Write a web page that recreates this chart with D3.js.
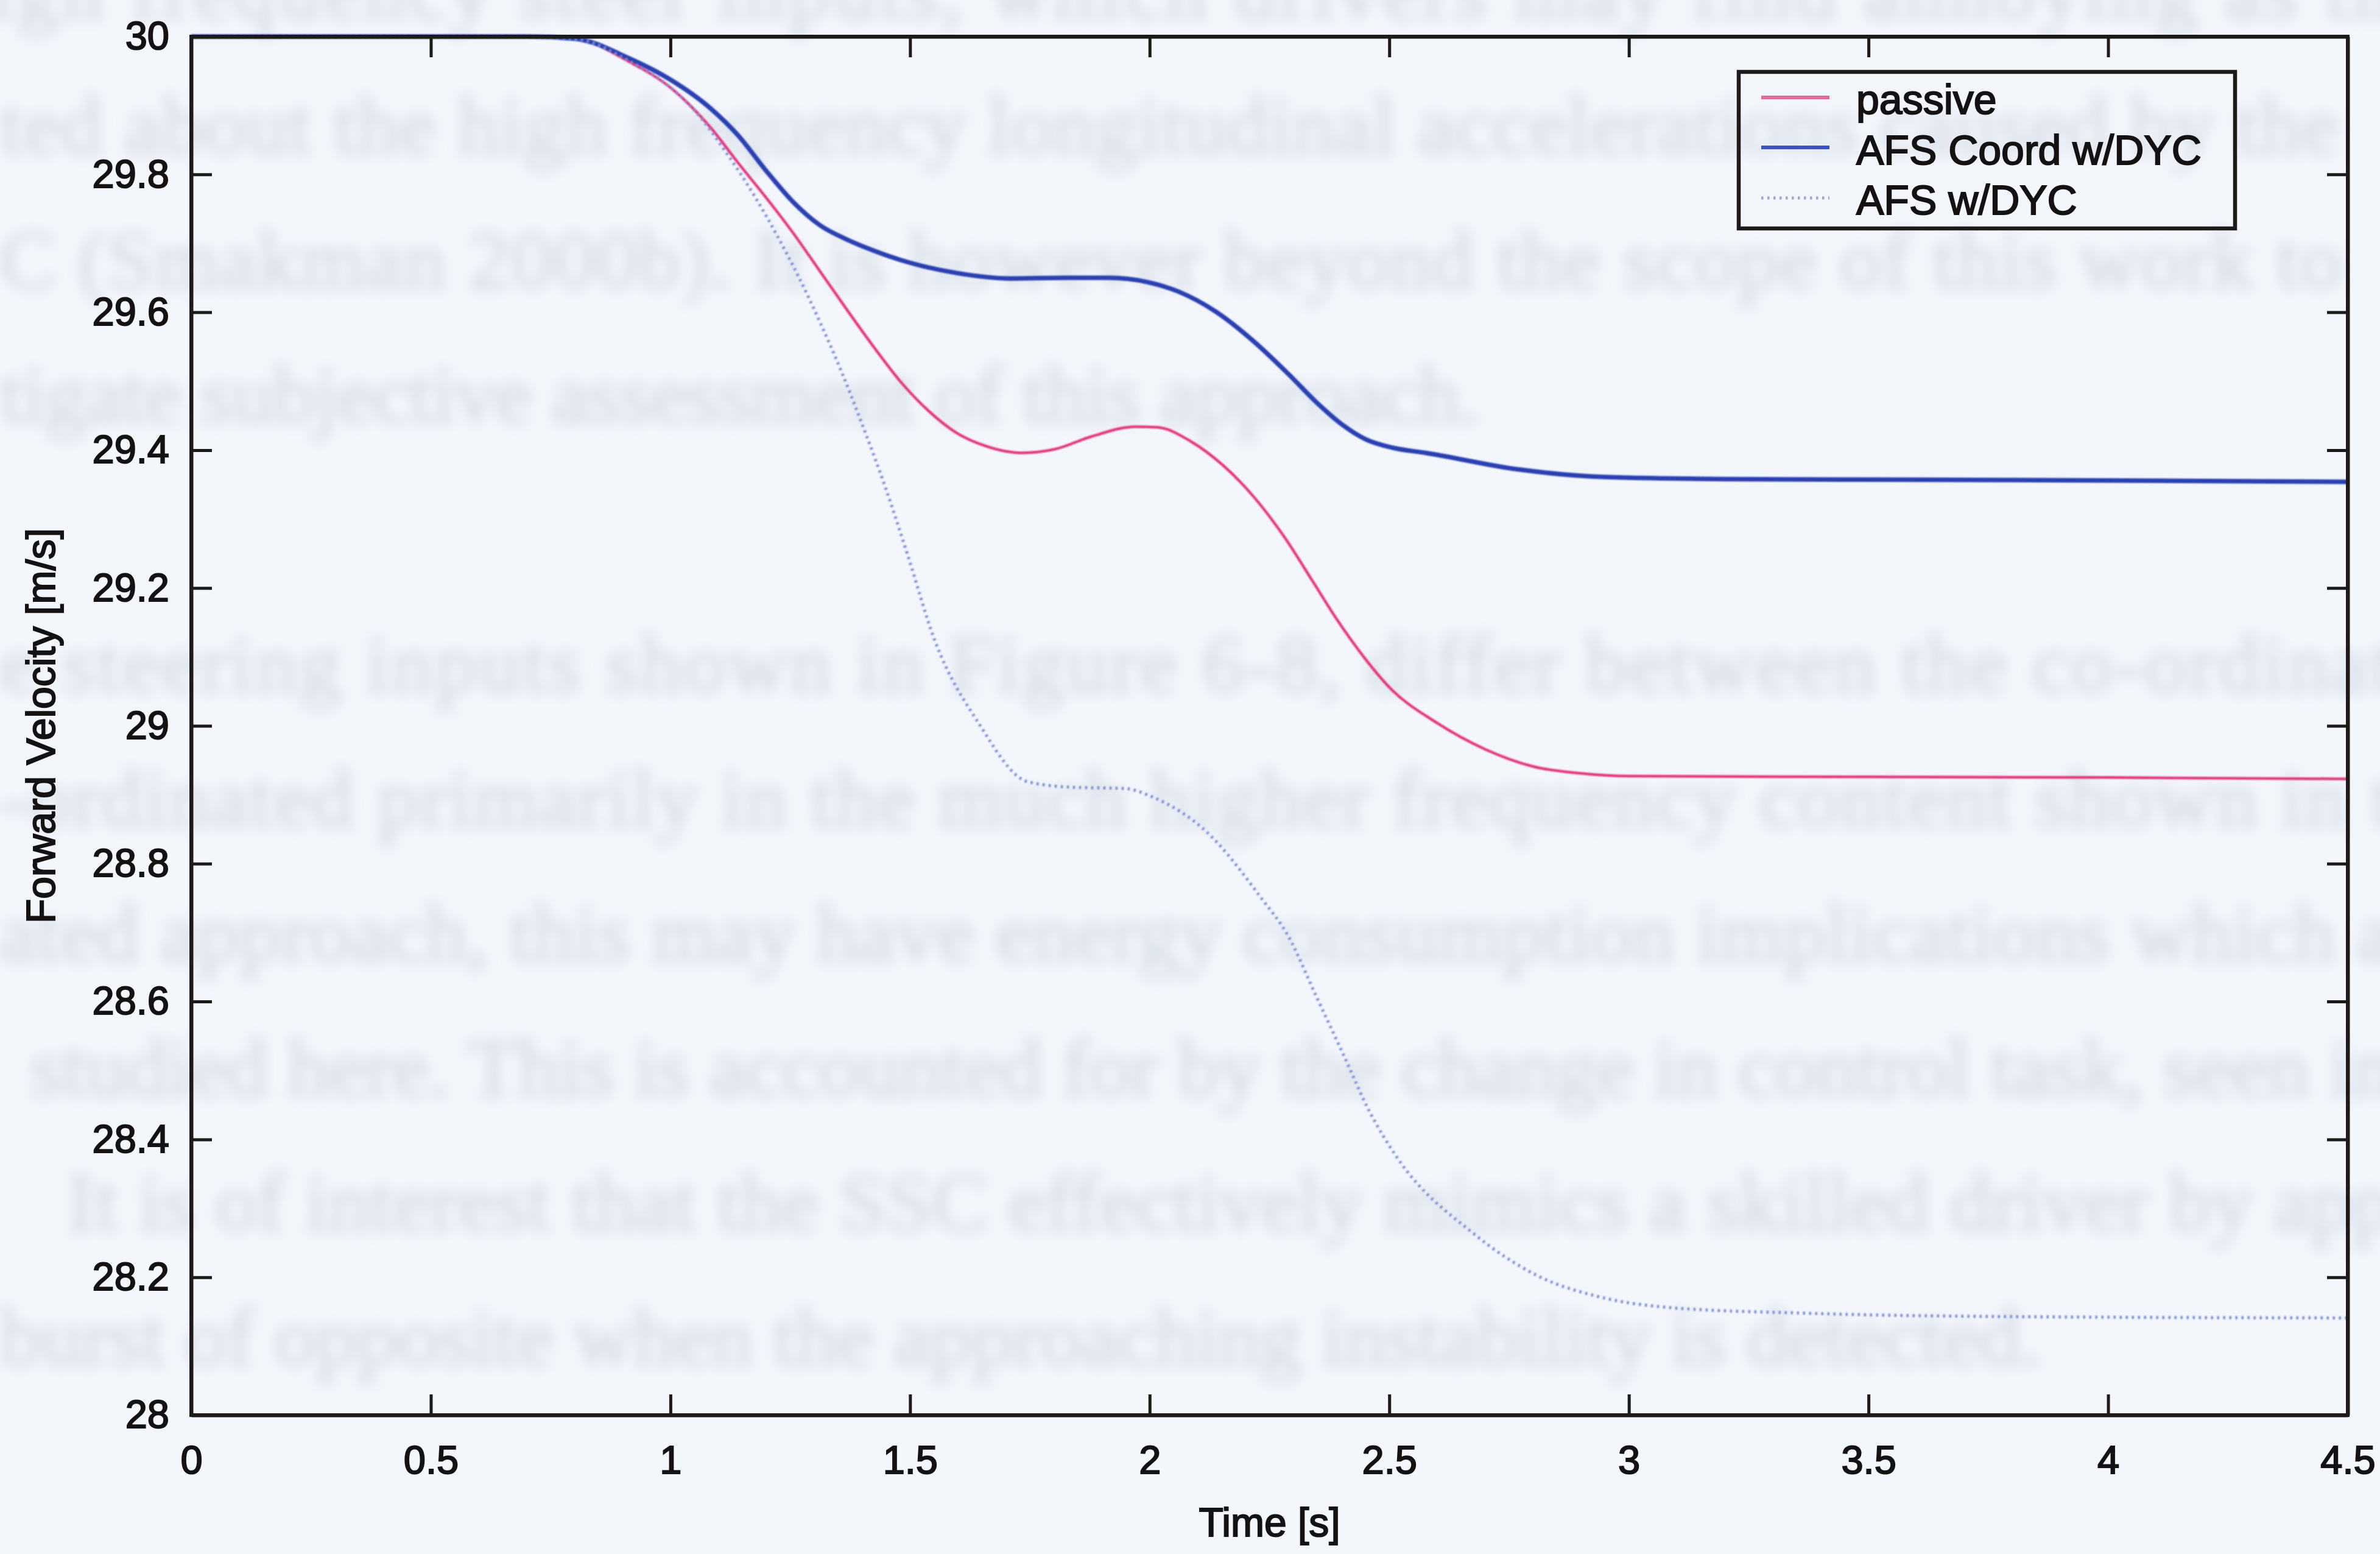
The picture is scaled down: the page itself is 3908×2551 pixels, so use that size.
<!DOCTYPE html>
<html>
<head>
<meta charset="utf-8">
<script src="https://cdn.jsdelivr.net/npm/d3@7"></script>
<style>
  html, body { margin: 0; padding: 0; background: #f3f6fb; }
  svg { display: block; }
</style>
</head>
<body>
<script>
// ---------------- DATA ----------------
const xTickValues = [0, 0.5, 1, 1.5, 2, 2.5, 3, 3.5, 4, 4.5];
const xTickLabels = ["0", "0.5", "1", "1.5", "2", "2.5", "3", "3.5", "4", "4.5"];
const yTickValues = [28, 28.2, 28.4, 28.6, 28.8, 29, 29.2, 29.4, 29.6, 29.8, 30];
const yTickLabels = ["28", "28.2", "28.4", "28.6", "28.8", "29", "29.2", "29.4", "29.6", "29.8", "30"];

const seriesNames = ["passive", "AFS Coord w/DYC", "AFS w/DYC"];

const passiveT = [0, 0.5, 0.7, 0.8, 0.915, 1.0, 1.085, 1.142, 1.2, 1.256, 1.3125, 1.37, 1.426, 1.483, 1.54, 1.597, 1.653, 1.733, 1.8, 1.88, 1.97, 2.017, 2.085, 2.153, 2.22, 2.28, 2.34, 2.39, 2.45, 2.5, 2.6, 2.7, 2.8, 2.9, 3.0, 3.5, 4.0, 4.5];
const passiveV = [30, 30, 30, 29.997, 29.963, 29.926, 29.867, 29.816, 29.766, 29.715, 29.659, 29.602, 29.548, 29.497, 29.456, 29.425, 29.407, 29.396, 29.401, 29.42, 29.434, 29.433, 29.413, 29.378, 29.33, 29.275, 29.21, 29.155, 29.097, 29.056, 29.004, 28.966, 28.941, 28.931, 28.927, 28.926, 28.925, 28.923];

const coordT = [0, 0.5, 0.7, 0.8, 0.915, 1.0, 1.085, 1.142, 1.2, 1.256, 1.3125, 1.37, 1.426, 1.494, 1.597, 1.71, 1.824, 1.915, 1.994, 2.06, 2.14, 2.22, 2.29, 2.347, 2.4, 2.45, 2.51, 2.576, 2.769, 2.948, 3.2, 3.6, 4.0, 4.5];
const coordV = [30, 30, 30, 29.997, 29.968, 29.9375, 29.895, 29.856, 29.805, 29.76, 29.726, 29.705, 29.689, 29.673, 29.657, 29.649, 29.65, 29.65, 29.644, 29.63, 29.6, 29.556, 29.51, 29.47, 29.438, 29.416, 29.403, 29.396, 29.372, 29.361, 29.358, 29.357, 29.356, 29.354];

const afsT = [0, 0.5, 0.7, 0.8, 0.915, 1.0, 1.06, 1.108, 1.176, 1.222, 1.267, 1.3125, 1.358, 1.403, 1.449, 1.494, 1.551, 1.643, 1.745, 1.835, 1.949, 2.005, 2.119, 2.233, 2.29, 2.346, 2.403, 2.459, 2.516, 2.673, 2.81, 2.948, 3.086, 3.361, 3.775, 4.5];
const afsV = [30, 30, 30, 29.997, 29.964, 29.926, 29.885, 29.84, 29.768, 29.712, 29.652, 29.585, 29.512, 29.432, 29.345, 29.25, 29.125, 29.004, 28.919, 28.911, 28.909, 28.897, 28.846, 28.75, 28.694, 28.61, 28.525, 28.44, 28.374, 28.265, 28.202, 28.17, 28.156, 28.148, 28.143, 28.141];

// faint bleed-through text of the scanned page
const bleedLines = [
  "high frequency steer inputs, which drivers may find annoying as th",
  "ted about the high frequency longitudinal accelerations caused by the",
  "C (Smakman 2000b). It is however beyond the scope of this work to",
  "tigate subjective assessment of this approach.",
  "e steering inputs shown in Figure 6-8, differ between the co-ordinat",
  "-ordinated primarily in the much higher frequency content shown in t",
  "ated approach, this may have energy consumption implications which a",
  "studied here. This is accounted for by the change in control task, seen in",
  "It is of interest that the SSC effectively mimics a skilled driver by app",
  "burst of opposite when the approaching instability is detected."
];
const bleedRow = [0, 1, 2, 3, 5, 6, 7, 8, 9, 10];
const bleedStart = [-90, 0, 0, 0, 0, 0, 0, 50, 110, 0];
const bleedEnd = [3930, 3840, 3845, 2430, 3930, 3930, 3930, 3930, 3930, 3352];

// ---------------- LAYOUT ----------------
const W = 3908, H = 2551;
const plot = { left: 314, right: 3855, top: 60, bottom: 2323 };
const FONT = "'Liberation Sans', Arial, Helvetica, sans-serif";
const INK = "#141212";

const svg = d3.select("body").append("svg")
  .attr("width", W).attr("height", H)
  .attr("viewBox", `0 0 ${W} ${H}`);

const defs = svg.append("defs");
defs.append("filter").attr("id", "blur")
  .attr("x", "-5%").attr("y", "-30%").attr("width", "110%").attr("height", "160%")
  .append("feGaussianBlur").attr("stdDeviation", 11);
defs.append("filter").attr("id", "soft")
  .append("feGaussianBlur").attr("stdDeviation", 0.8);

svg.append("rect").attr("width", W).attr("height", H).attr("fill", "#f3f6fb");

// bleed-through text
const bleed = svg.append("g").attr("filter", "url(#blur)")
  .attr("font-family", "'Liberation Serif', 'Times New Roman', serif")
  .attr("font-size", 136)
  .attr("fill", "#c6cfdc")
  .attr("stroke", "#c6cfdc").attr("stroke-width", 4)
  .attr("opacity", 0.6);
bleed.selectAll("text").data(bleedLines).join("text")
  .attr("x", (d, i) => bleedStart[i])
  .attr("y", (d, i) => 31 + 221 * bleedRow[i])
  .attr("textLength", (d, i) => bleedEnd[i] - bleedStart[i])
  .attr("lengthAdjust", "spacing")
  .text(d => d);

const x = d3.scaleLinear().domain([0, 4.5]).range([plot.left, plot.right]);
const y = d3.scaleLinear().domain([28, 30]).range([plot.bottom, plot.top]);

const line = d3.line().x(d => x(d[0])).y(d => y(d[1])).curve(d3.curveMonotoneX);
const zip = (a, b) => a.map((t, i) => [t, b[i]]);

const series = [
  { name: seriesNames[0], pts: zip(passiveT, passiveV), color: "#e2387f", width: 4.5, dash: null },
  { name: seriesNames[1], pts: zip(coordT, coordV), color: "#2b40b0", width: 7.5, dash: null },
  { name: seriesNames[2], pts: zip(afsT, afsV), color: "#7888d0", width: 5, dash: "3.5,6.5" }
];

const curves = svg.append("g").attr("filter", "url(#soft)");
series.forEach(s => {
  curves.append("path")
    .attr("d", line(s.pts))
    .attr("fill", "none")
    .attr("stroke", s.color)
    .attr("stroke-width", s.width)
    .attr("stroke-dasharray", s.dash)
    .attr("stroke-linejoin", "round");
});

// ---------------- AXES ----------------
const TICK = -34;
function styleAxis(g) {
  g.select(".domain").attr("stroke", "#1d1a1a").attr("stroke-width", 6);
  g.selectAll(".tick line").attr("stroke", "#1d1a1a").attr("stroke-width", 5);
  g.selectAll(".tick text")
    .attr("font-family", FONT).attr("font-size", 65)
    .attr("fill", INK).attr("stroke", INK).attr("stroke-width", 2);
  g.attr("font-family", null).attr("font-size", null);
}

svg.append("g").attr("transform", `translate(0,${plot.bottom})`)
  .call(d3.axisBottom(x).tickValues(xTickValues).tickFormat((d, i) => xTickLabels[i])
    .tickSizeInner(TICK).tickSizeOuter(0).tickPadding(50))
  .call(styleAxis);

svg.append("g").attr("transform", `translate(0,${plot.top})`)
  .call(d3.axisTop(x).tickValues(xTickValues).tickFormat(() => "")
    .tickSizeInner(TICK).tickSizeOuter(0))
  .call(styleAxis);

svg.append("g").attr("transform", `translate(${plot.left},0)`)
  .call(d3.axisLeft(y).tickValues(yTickValues).tickFormat((d, i) => yTickLabels[i])
    .tickSizeInner(TICK).tickSizeOuter(0).tickPadding(36))
  .call(styleAxis);

svg.append("g").attr("transform", `translate(${plot.right},0)`)
  .call(d3.axisRight(y).tickValues(yTickValues).tickFormat(() => "")
    .tickSizeInner(TICK).tickSizeOuter(0))
  .call(styleAxis);

// square frame corners
svg.append("rect")
  .attr("x", plot.left).attr("y", plot.top)
  .attr("width", plot.right - plot.left).attr("height", plot.bottom - plot.top)
  .attr("fill", "none").attr("stroke", "#1d1a1a").attr("stroke-width", 6);

// axis titles
svg.append("text")
  .attr("x", (plot.left + plot.right) / 2).attr("y", 2522)
  .attr("text-anchor", "middle")
  .attr("font-family", FONT).attr("font-size", 66)
  .attr("fill", INK).attr("stroke", INK).attr("stroke-width", 2)
  .text("Time [s]");

svg.append("text")
  .attr("transform", `translate(90,${(plot.top + plot.bottom) / 2}) rotate(-90)`)
  .attr("text-anchor", "middle")
  .attr("font-family", FONT).attr("font-size", 66)
  .attr("fill", INK).attr("stroke", INK).attr("stroke-width", 2)
  .text("Forward Velocity [m/s]");

// ---------------- LEGEND ----------------
const legend = svg.append("g");
legend.append("rect")
  .attr("x", 2855).attr("y", 118).attr("width", 815).attr("height", 257)
  .attr("fill", "none").attr("stroke", "#1d1a1a").attr("stroke-width", 6.5);

const legLineY = [160, 242, 325];
const legTextY = [187, 270, 352];
const legColors = ["#e46a9e", "#3a52c0", "#9aa6d8"];
series.forEach((s, i) => {
  legend.append("line")
    .attr("x1", 2892).attr("x2", 3004)
    .attr("y1", legLineY[i]).attr("y2", legLineY[i])
    .attr("stroke", legColors[i])
    .attr("stroke-width", i === 2 ? 5 : 6)
    .attr("stroke-dasharray", s.dash);
  legend.append("text")
    .attr("x", 3048).attr("y", legTextY[i])
    .attr("font-family", FONT).attr("font-size", 68)
    .attr("fill", INK).attr("stroke", INK).attr("stroke-width", 2)
    .text(s.name);
});
</script>
</body>
</html>
